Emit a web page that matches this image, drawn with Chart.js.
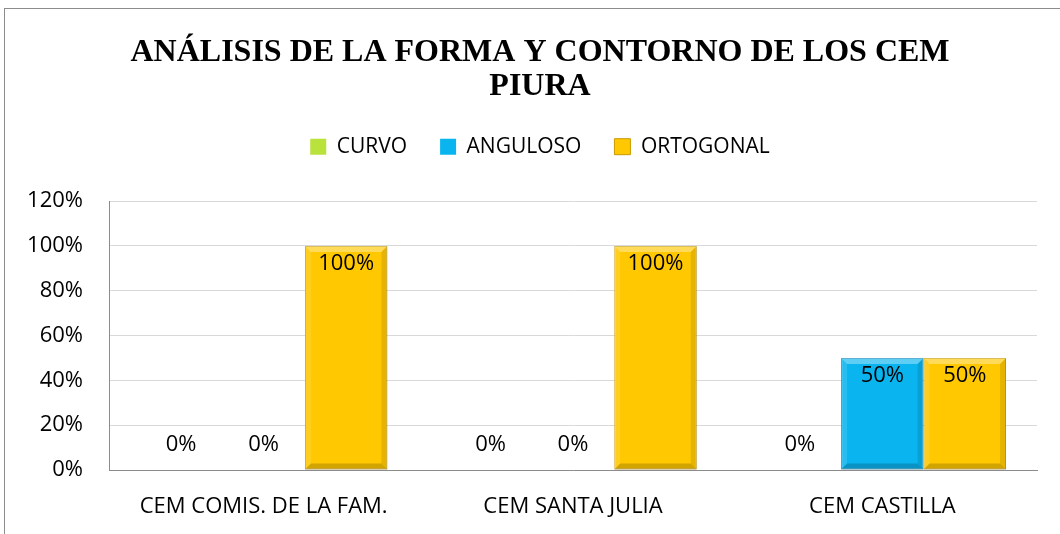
<!DOCTYPE html>
<html>
<head>
<meta charset="utf-8">
<script src="https://cdn.jsdelivr.net/npm/chart.js@4"></script>
<style>
  html, body { margin: 0; padding: 0; background: #fff; overflow: hidden; }
  #frame { position: absolute; left: 4px; top: 8px; width: 1100px; height: 600px; border: 1px solid #8c8c8c; }
  #wrap { position: absolute; left: 0; top: 0; width: 1060px; height: 534px; }
</style>
</head>
<body>
<div id="frame"></div>
<div id="wrap"><canvas id="chart" width="1060" height="534"></canvas></div>
<script>
// === Datos del gráfico ===
const categories = ['CEM COMIS. DE LA FAM.', 'CEM SANTA JULIA', 'CEM CASTILLA'];
const curvo = [0, 0, 0];
const anguloso = [0, 0, 50];
const ortogonal = [100, 100, 50];
const yTicks = [0, 20, 40, 60, 80, 100, 120];

const FONT = '"Open Sans", Lato, sans-serif';

// biselado de las barras + etiquetas de datos
const barDecor = {
    id: 'barDecor',
    afterDatasetsDraw(chart) {
        const ctx = chart.ctx;
        ctx.save();
        chart.data.datasets.forEach((ds, i) => {
            chart.getDatasetMeta(i).data.forEach((bar, j) => {
                if (ds.data[j] === 0) return;
                const l = bar.x - bar.width / 2, r = bar.x + bar.width / 2;
                const t = bar.y, b = bar.base, e = 6;
                const quad = (pts, fill) => {
                    ctx.beginPath();
                    ctx.moveTo(pts[0][0], pts[0][1]);
                    pts.slice(1).forEach(p => ctx.lineTo(p[0], p[1]));
                    ctx.closePath();
                    ctx.fillStyle = fill;
                    ctx.fill();
                };
                quad([[l, t], [r, t], [r - e, t + e], [l + e, t + e]], 'rgba(255,255,255,0.35)');
                quad([[l, t], [l + e, t + e], [l + e, b - e], [l, b]], 'rgba(255,255,255,0.12)');
                quad([[r, t], [r, b], [r - e, b - e], [r - e, t + e]], 'rgba(0,0,0,0.10)');
                quad([[l, b], [l + e, b - e], [r - e, b - e], [r, b]], 'rgba(0,0,0,0.18)');
            });
        });
        ctx.font = '22px ' + FONT;
        ctx.fillStyle = '#000';
        ctx.textAlign = 'center';
        ctx.textBaseline = 'middle';
        chart.data.datasets.forEach((ds, i) => {
            chart.getDatasetMeta(i).data.forEach((bar, j) => {
                const v = ds.data[j];
                const y = v === 0 ? bar.base - 25 : bar.y + 18;
                ctx.fillText(v + '%', bar.x, y);
            });
        });
        ctx.restore();
    }
};

// más espacio bajo la leyenda y título/leyenda centrados como en el original
const layoutTweak = {
    id: 'layoutTweak',
    afterInit(chart) {
        const fit = chart.legend.fit;
        chart.legend.fit = function () {
            fit.call(this);
            this.height += 34;
        };
    },
    afterLayout(chart) {
        chart.legend.left += 43;
        chart.titleBlock.left += 43;
    }
};

const makeSet = (label, data, fill, edge) => ({
    label: label,
    data: data,
    backgroundColor: fill,
    borderColor: edge,
    borderWidth: ctx => (ctx.raw === 0 ? 0 : 1),
    borderSkipped: false
});

new Chart(document.getElementById('chart'), {
    type: 'bar',
    data: {
        labels: categories,
        datasets: [
            makeSet('CURVO', curvo, '#b9e23c', '#8fb61e'),
            makeSet('ANGULOSO', anguloso, '#0ab4ef', '#0a86b8'),
            makeSet('ORTOGONAL', ortogonal, '#ffc800', '#c99a00')
        ]
    },
    options: {
        responsive: false,
        animation: false,
        layout: { padding: { left: 0, right: 23, top: 0, bottom: 0 } },
        datasets: { bar: { barPercentage: 1, categoryPercentage: 0.8 } },
        scales: {
            x: {
                grid: { display: false, drawTicks: false },
                border: { color: '#8c8c8c', width: 1 },
                ticks: { color: '#000', padding: 24, font: { family: FONT, size: 22 } },
                afterFit: s => { s.height = 64; }
            },
            y: {
                min: 0,
                max: 120,
                afterBuildTicks: s => { s.ticks = yTicks.map(v => ({ value: v })); },
                grid: { color: '#d9d9d9', drawTicks: false },
                border: { color: '#8c8c8c', width: 1 },
                ticks: {
                    color: '#000',
                    padding: 26,
                    font: { family: FONT, size: 22 },
                    callback: v => v + '%'
                },
                afterFit: s => { s.width = 109; }
            }
        },
        plugins: {
            title: {
                display: true,
                text: ['ANÁLISIS DE LA FORMA Y CONTORNO DE LOS CEM', 'PIURA'],
                color: '#000',
                font: { family: '"Liberation Serif", "Times New Roman", serif', size: 32, weight: 'bold', lineHeight: 1.05 },
                padding: { top: 36, bottom: 0 }
            },
            legend: {
                position: 'top',
                labels: {
                    color: '#000',
                    boxWidth: 16,
                    boxHeight: 16,
                    padding: 33,
                    font: { family: FONT, size: 21 }
                }
            },
            tooltip: { enabled: false }
        }
    },
    plugins: [barDecor, layoutTweak]
});
</script>
</body>
</html>
